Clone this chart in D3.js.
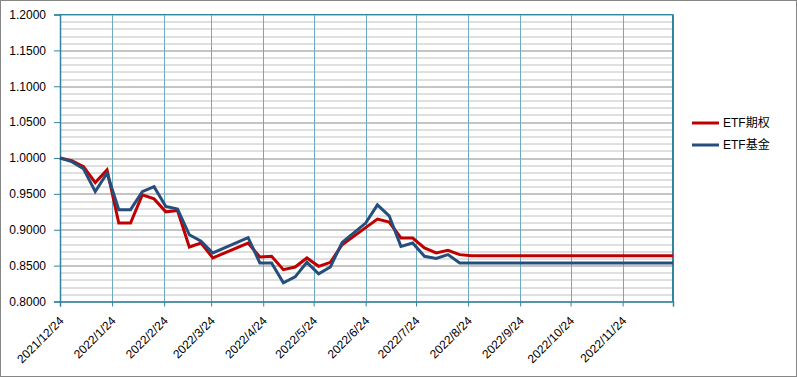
<!DOCTYPE html>
<html>
<head>
<meta charset="utf-8">
<script src="https://cdn.jsdelivr.net/npm/d3@7"></script>
<style>
  body { margin: 0; background: #fff; }
  text { font-family: "Liberation Sans", "Noto Sans CJK SC", sans-serif; fill: #000; }
</style>
</head>
<body>
<div id="viz"></div>
<script>
// data (weekly, Fridays)
const dates = ["2021/12/24","2021/12/31","2022/1/7","2022/1/14","2022/1/21","2022/1/28","2022/2/4",
  "2022/2/11","2022/2/18","2022/2/25","2022/3/4","2022/3/11","2022/3/18","2022/3/25","2022/4/15",
  "2022/4/22","2022/4/29","2022/5/6","2022/5/13","2022/5/20","2022/5/27","2022/6/3","2022/6/10",
  "2022/6/24","2022/7/1","2022/7/8","2022/7/15","2022/7/22","2022/7/29","2022/8/5","2022/8/12",
  "2022/8/19","2022/8/26","2022/12/24"];
const optionVals = [1.0000,0.9963,0.9880,0.9657,0.9833,0.9093,0.9093,
  0.9486,0.9430,0.9250,0.9268,0.8760,0.8815,0.8607,0.8815,
  0.8620,0.8630,0.8444,0.8480,0.8607,0.8490,0.8546,0.8792,
  0.9030,0.9149,0.9107,0.8885,0.8885,0.8746,0.8676,0.8713,
  0.8653,0.8639,0.8639];
const fundVals = [1.0000,0.9949,0.9850,0.9532,0.9787,0.9280,0.9280,
  0.9530,0.9600,0.9324,0.9290,0.8930,0.8840,0.8676,0.8890,
  0.8537,0.8537,0.8260,0.8343,0.8546,0.8385,0.8482,0.8824,
  0.9093,0.9347,0.9194,0.8768,0.8815,0.8630,0.8601,0.8653,
  0.8537,0.8537,0.8537];
const seriesNames = ["ETF期权", "ETF基金"];
const seriesColors = ["#c00000", "#254e7c"];
const xTickLabels = ["2021/12/24","2022/1/24","2022/2/24","2022/3/24","2022/4/24","2022/5/24",
  "2022/6/24","2022/7/24","2022/8/24","2022/9/24","2022/10/24","2022/11/24","2022/12/24"];
const yMin = 0.80, yMax = 1.20;

const W = 797, H = 377;
const margin = {top: 14.5, right: 124, bottom: 75.5, left: 60};
const width = W - margin.left - margin.right,
      height = H - margin.top - margin.bottom;

const parse = d3.timeParse("%Y/%m/%d");
const teal = "#31859c";

const root = d3.select("#viz").append("svg")
    .attr("width", W).attr("height", H);

root.append("rect")
    .attr("x", 0.5).attr("y", 0.5)
    .attr("width", W - 1).attr("height", H - 1)
    .attr("fill", "#fff").attr("stroke", "#868686");

const svg = root.append("g")
    .attr("transform", `translate(${margin.left},${margin.top})`);

const xTicks = xTickLabels.map(parse);
const x = d3.scaleTime()
    .domain([xTicks[0], xTicks[xTicks.length - 1]])
    .range([0, width]);
const y = d3.scaleLinear().domain([yMin, yMax]).range([height, 0]);

// horizontal grid: minor every 0.01, major every 0.05
const minor = d3.range(0, 41).map(i => +(yMin + i * 0.01).toFixed(2));
svg.append("g").selectAll("line")
    .data(minor.filter((d, i) => i % 5 !== 0))
    .enter().append("line")
    .attr("x1", 0).attr("x2", width)
    .attr("y1", d => Math.round(y(d)) + 0.5).attr("y2", d => Math.round(y(d)) + 0.5)
    .attr("stroke", "#c0c0c0");
const major = minor.filter((d, i) => i % 5 === 0);
svg.append("g").selectAll("line")
    .data(major)
    .enter().append("line")
    .attr("x1", 0).attr("x2", width)
    .attr("y1", d => Math.round(y(d)) + 0.5).attr("y2", d => Math.round(y(d)) + 0.5)
    .attr("stroke", "#8a8a8a");

// vertical grid at month ticks
svg.append("g").selectAll("line")
    .data(xTicks.slice(1, -1))
    .enter().append("line")
    .attr("x1", d => Math.round(x(d)) + 0.5).attr("x2", d => Math.round(x(d)) + 0.5)
    .attr("y1", 0).attr("y2", height)
    .attr("stroke", "#6aabc2");

// plot border
svg.append("line").attr("x1", 0).attr("x2", width).attr("y1", 0).attr("y2", 0)
    .attr("stroke", teal);
svg.append("line").attr("x1", width).attr("x2", width).attr("y1", 0).attr("y2", height)
    .attr("stroke", teal).attr("stroke-width", 2);

// axes
const yAxis = svg.append("g")
    .call(d3.axisLeft(y).tickValues(major).tickFormat(d3.format(".4f")).tickSize(6).tickPadding(8));
yAxis.selectAll("text").style("font-size", "12px");

const xAxis = svg.append("g")
    .attr("transform", `translate(0,${height})`)
    .call(d3.axisBottom(x).tickValues(xTicks).tickSize(5)
        .tickFormat((d, i) => i < xTickLabels.length - 1 ? xTickLabels[i] : ""));
xAxis.selectAll("text")
    .style("font-size", "12px")
    .attr("text-anchor", "end")
    .attr("y", 0).attr("dy", 0)
    .attr("transform", "translate(4,20) rotate(-45)");

[yAxis, xAxis].forEach(a => {
  a.select(".domain").attr("stroke", teal).attr("stroke-width", 1.5);
  a.selectAll(".tick line").attr("stroke", teal);
});

// lines
const rows = dates.map((d, i) => ({date: parse(d), vals: [optionVals[i], fundVals[i]]}));
const line = k => d3.line()
    .x(d => x(d.date))
    .y(d => y(d.vals[k]));

seriesNames.forEach((name, k) => {
  svg.append("path")
      .datum(rows)
      .attr("fill", "none")
      .attr("stroke", seriesColors[k])
      .attr("stroke-width", 3)
      .attr("stroke-linejoin", "miter")
      .attr("d", line(k));
});

// legend
const legend = root.append("g").attr("transform", "translate(692,123)");
const items = legend.selectAll("g")
    .data(seriesNames)
    .enter().append("g")
    .attr("transform", (d, i) => `translate(0,${i * 22})`);
items.append("line")
    .attr("x1", 0).attr("x2", 27)
    .attr("stroke", (d, i) => seriesColors[i])
    .attr("stroke-width", 3);
items.append("text")
    .attr("x", 31).attr("dy", "0.35em")
    .style("font-size", "12px")
    .text(d => d);
</script>
</body>
</html>
